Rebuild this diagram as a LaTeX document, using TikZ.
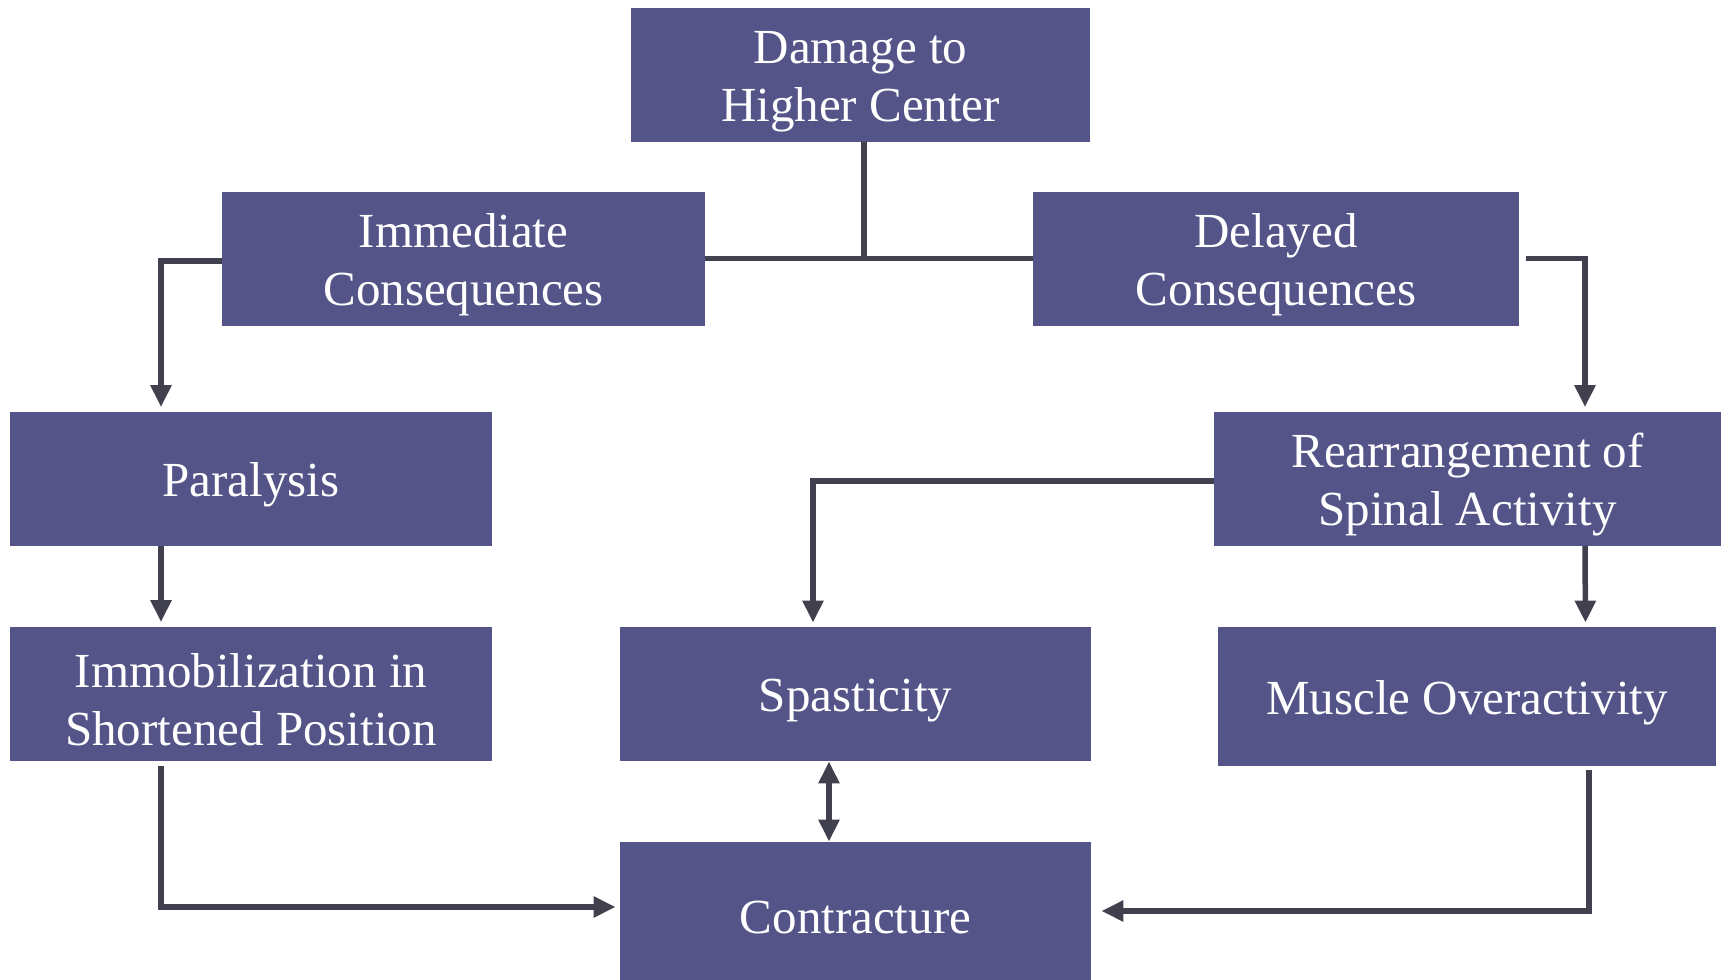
\documentclass[tikz,border=0pt]{standalone}
\usepackage{fontspec}
\setmainfont{Liberation Serif}
\usetikzlibrary{arrows.meta}
\definecolor{boxfill}{HTML}{545489}
\definecolor{linegray}{HTML}{40404F}
\newcommand{\topstrut}{\rule{0pt}{23pt}}

\begin{document}
\begin{tikzpicture}[x=0.5pt,y=-0.5pt,
    box/.style={fill=boxfill,text=white,align=center,inner sep=0pt,
      minimum height=67pt,font=\fontsize{24.5}{29}\selectfont},
    link/.style={draw=linegray,line width=2.75pt},
    arrow/.style={link,-{Triangle[width=10pt,length=11pt]},shorten >=2pt}]
    \useasboundingbox (0,0) rectangle (1721,980);

    % boxes, top to bottom
    \node[box,minimum width=229.5pt] (damage) at (860.5,75) {\topstrut Damage to\\Higher Center};
    \node[box,minimum width=241.5pt] (immediate) at (463.5,258.5) {\topstrut Immediate\\Consequences};
    \node[box,minimum width=243pt] (delayed) at (1276,258.5) {\topstrut Delayed\\Consequences};
    \node[box,minimum width=241pt] (paralysis) at (251,478.5) {\topstrut Paralysis};
    \node[box,minimum width=253.5pt] (rearr) at (1467.5,478.5) {\topstrut Rearrangement of\\Spinal Activity};
    \node[box,minimum width=241pt] (immob) at (251,693.5) {\topstrut Immobilization in\\Shortened Position};
    \node[box,minimum width=235.5pt] (spast) at (855.5,694) {\topstrut Spasticity};
    \node[box,minimum width=249pt,minimum height=69.5pt] (muscle) at (1467,696.5) {\topstrut Muscle Overactivity};
    \node[box,minimum width=235.5pt,minimum height=69pt] (contract) at (855.5,911) {\topstrut Contracture};

    % tree from the top box
    \draw[link] ([xshift=1.75pt]damage.south) -- ([xshift=1.75pt]damage.south |- immediate.east);
    \draw[link] (immediate.east) -- (delayed.west);

    % left branch
    \draw[arrow] ([yshift=-1.25pt]immediate.west) -| ([xshift=-45pt]paralysis.north);
    \draw[arrow] ([xshift=-45pt]paralysis.south) -- ([xshift=-45pt]immob.north);
    \draw[arrow] ([xshift=-45pt,yshift=-2.5pt]immob.south) |- ([yshift=2pt]contract.west);

    % right branch
    \draw[arrow] ([xshift=3.5pt]delayed.east) -| ([xshift=58.75pt]rearr.north);
    \draw[arrow] ([xshift=58.75pt]rearr.south) -- ([xshift=59.25pt]muscle.north);
    \draw[arrow] ([yshift=-1.25pt]rearr.west) -| ([xshift=-21.25pt]spast.north);
    \draw[arrow] ([xshift=61pt,yshift=-2pt]muscle.south) |- ([xshift=3pt]contract.east);

    % spasticity and contracture
    \draw[link,{Triangle[width=10pt,length=11pt]}-{Triangle[width=10pt,length=11pt]}]
      ([xshift=-13.25pt]spast.south) -- ([xshift=-13.25pt]contract.north);
\end{tikzpicture}
\end{document}
